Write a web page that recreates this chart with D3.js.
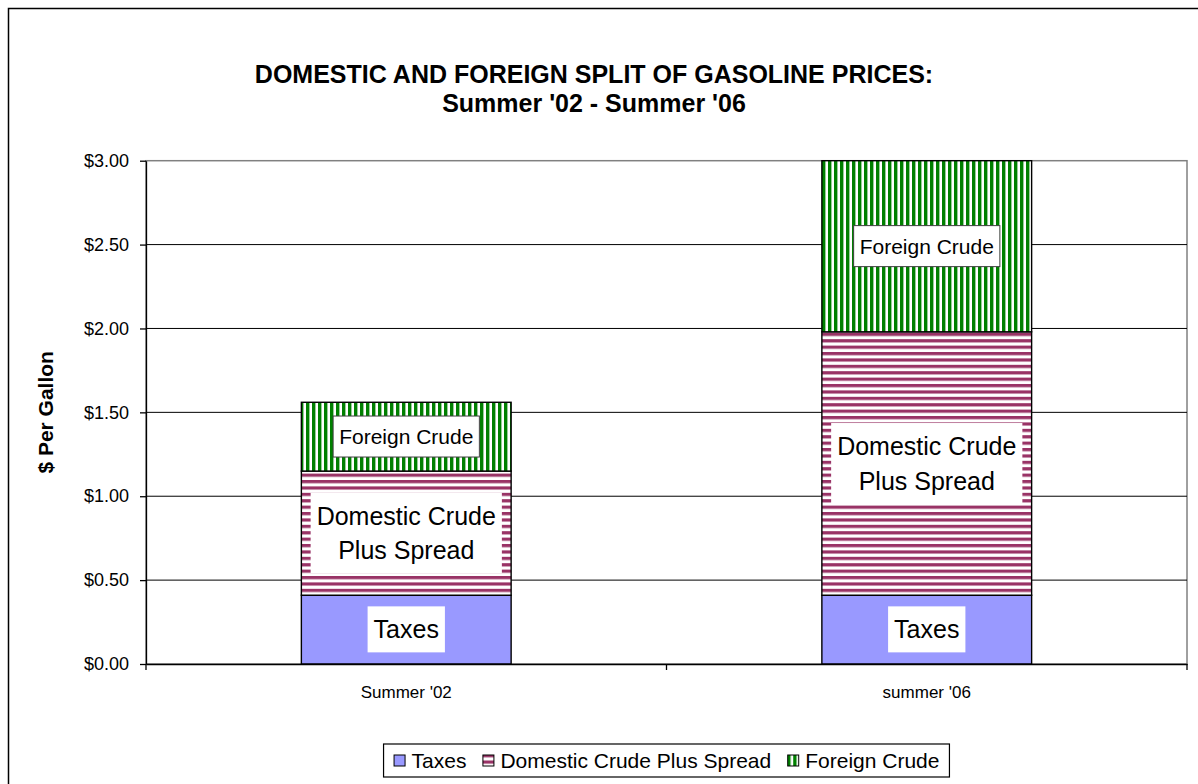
<!DOCTYPE html>
<html>
<head>
<meta charset="utf-8">
<script src="https://cdn.jsdelivr.net/npm/d3@7"></script>
<style>
  body { margin: 0; background: #fff; }
  svg { display: block; font-family: "Liberation Sans", Arial, sans-serif; }
</style>
</head>
<body>
<div id="chart"></div>
<script>
// values
var periods = ["Summer '02", "summer '06"]
var taxes = [0.41, 0.41]
var domestic = [0.74, 1.57]
var foreign = [0.41, 1.02]

var seriesNames = ['Taxes', 'Domestic Crude Plus Spread', 'Foreign Crude']
var segLabels = [['Taxes'], ['Domestic Crude', 'Plus Spread'], ['Foreign Crude']]
var yTicks = [0, 0.5, 1, 1.5, 2, 2.5, 3]
var titleLines = ['DOMESTIC AND FOREIGN SPLIT OF GASOLINE PRICES:', "Summer '02 - Summer '06"]
var yTitle = '$ Per Gallon'

var W = 1198, H = 784
var plot = {left: 146, right: 1187, top: 160.7, bottom: 664}

var keys = ['taxes', 'domestic', 'foreign']
var table = periods.map((p, i) => ({period: p, taxes: taxes[i], domestic: domestic[i], foreign: foreign[i]}))
var stacked = d3.stack().keys(keys)(table)

var fills = ['#9999ff', 'url(#hstripe)', 'url(#vstripe)']
var labelSize = [25, 25, 21]
var labelBorder = [false, false, true]

var svg = d3.select('#chart').append('svg')
    .attr('width', W)
    .attr('height', H)

var defs = svg.append('defs')

var hp = defs.append('pattern').attr('id', 'hstripe')
    .attr('patternUnits', 'userSpaceOnUse').attr('width', 8).attr('height', 6.4)
hp.append('rect').attr('width', 8).attr('height', 6.4).attr('fill', '#fff')
hp.append('rect').attr('width', 8).attr('height', 3.2).attr('fill', '#993366')

var vp = defs.append('pattern').attr('id', 'vstripe')
    .attr('patternUnits', 'userSpaceOnUse').attr('width', 6).attr('height', 8)
vp.append('rect').attr('width', 6).attr('height', 8).attr('fill', '#fff')
vp.append('rect').attr('width', 3.4).attr('height', 8).attr('fill', '#008000')

// outer chart border (right/bottom edges fall off the picture)
svg.append('rect')
    .attr('x', 8.5).attr('y', 8.5)
    .attr('width', 1250).attr('height', 850)
    .attr('fill', '#fff')
    .attr('stroke', '#000')
    .attr('stroke-width', 1.5)

var x = d3.scaleBand()
    .domain(periods)
    .range([plot.left, plot.right])
    .paddingInner(0.597)
    .paddingOuter(0.2985)

var y = d3.scaleLinear()
    .domain([0, 3])
    .range([plot.bottom, plot.top])

// plot frame + gridlines
svg.append('rect')
    .attr('x', plot.left).attr('y', plot.top)
    .attr('width', plot.right - plot.left).attr('height', plot.bottom - plot.top)
    .attr('fill', '#fff')
    .attr('stroke', '#808080')
    .attr('stroke-width', 1.5)

svg.append('g')
    .selectAll('line')
    .data(yTicks.filter(d => d > 0 && d < 3))
    .enter().append('line')
    .attr('x1', plot.left).attr('x2', plot.right)
    .attr('y1', d => y(d)).attr('y2', d => y(d))
    .attr('stroke', '#000')
    .attr('stroke-width', 1)

// bars
var bars = svg.append('g')
stacked.forEach((layer, k) => {
    bars.append('g')
        .selectAll('rect')
        .data(layer)
        .enter().append('rect')
        .attr('x', d => x(d.data.period))
        .attr('width', x.bandwidth())
        .attr('y', d => y(d[1]))
        .attr('height', d => y(d[0]) - y(d[1]))
        .attr('fill', fills[k])
        .attr('stroke', '#000')
        .attr('stroke-width', 1.4)
})

// segment labels in white boxes
stacked.forEach((layer, k) => {
    layer.forEach(d => {
        var g = svg.append('g')
            .attr('transform', `translate(${x(d.data.period) + x.bandwidth() / 2},${(y(d[0]) + y(d[1])) / 2})`)
        var lines = segLabels[k]
        var lh = labelSize[k] * 1.38
        var t = g.append('text')
            .attr('text-anchor', 'middle')
            .attr('font-size', labelSize[k])
            .attr('fill', '#000')
        lines.forEach((s, i) => {
            t.append('tspan')
                .attr('x', 0)
                .attr('y', (i - (lines.length - 1) / 2) * lh)
                .attr('dy', '0.35em')
                .text(s)
        })
        var bb = t.node().getBBox()
        g.insert('rect', 'text')
            .attr('x', bb.x - 6).attr('y', bb.y - 9)
            .attr('width', bb.width + 12).attr('height', bb.height + 18)
            .attr('fill', '#fff')
            .attr('stroke', labelBorder[k] ? '#404040' : 'none')
            .attr('stroke-width', 1)
    })
})

// axes
var yAxis = svg.append('g')
    .attr('transform', `translate(${plot.left},0)`)
    .call(d3.axisLeft(y).tickValues(yTicks).tickFormat(d3.format('$.2f')).tickSize(6).tickSizeOuter(0).tickPadding(11))
yAxis.selectAll('text').attr('font-size', 18).attr('fill', '#000').attr('font-family', null)
yAxis.selectAll('line, path').attr('stroke', '#000').attr('stroke-width', 1.3)

var xAxis = svg.append('g')
    .attr('transform', `translate(0,${plot.bottom})`)
    .call(d3.axisBottom(x).tickSize(0).tickSizeOuter(0).tickPadding(22))
xAxis.selectAll('text').attr('font-size', 17).attr('fill', '#000').attr('font-family', null)
xAxis.select('path').attr('stroke', '#000').attr('stroke-width', 1.5)

// category boundary ticks
svg.append('g')
    .selectAll('line')
    .data(d3.range(periods.length + 1))
    .enter().append('line')
    .attr('x1', i => plot.left + i * x.step())
    .attr('x2', i => plot.left + i * x.step())
    .attr('y1', plot.bottom).attr('y2', plot.bottom + 6)
    .attr('stroke', '#000')
    .attr('stroke-width', 1.3)

// titles
svg.append('g')
    .selectAll('text')
    .data(titleLines)
    .enter().append('text')
    .attr('x', 594)
    .attr('y', (d, i) => 83 + i * 29)
    .attr('text-anchor', 'middle')
    .attr('font-size', 25)
    .attr('font-weight', 'bold')
    .text(d => d)

svg.append('text')
    .attr('transform', `translate(53,${(plot.top + plot.bottom) / 2}) rotate(-90)`)
    .attr('text-anchor', 'middle')
    .attr('font-size', 21)
    .attr('font-weight', 'bold')
    .text(yTitle)

// legend
var legendWrap = svg.append('g')
var legendBox = legendWrap.append('rect')
var legend = legendWrap.append('g')
var lx = 0
seriesNames.forEach((name, k) => {
    var it = legend.append('g').attr('transform', `translate(${lx},0)`)
    it.append('rect')
        .attr('x', 0.5).attr('y', -5.5)
        .attr('width', 11).attr('height', 11)
        .attr('fill', fills[k])
        .attr('stroke', '#000')
        .attr('stroke-width', 1)
    var t = it.append('text')
        .attr('x', 18)
        .attr('dy', '0.35em')
        .attr('font-size', 21)
        .text(name)
    lx += 18 + t.node().getComputedTextLength() + 16
})
var legendW = lx - 16
var legendCx = (plot.left + plot.right) / 2
legend.attr('transform', `translate(${legendCx - legendW / 2},760.5)`)
legendBox
    .attr('x', legendCx - legendW / 2 - 10).attr('y', 744)
    .attr('width', legendW + 20).attr('height', 33)
    .attr('fill', '#fff')
    .attr('stroke', '#000')
    .attr('stroke-width', 1.2)
</script>
</body>
</html>
